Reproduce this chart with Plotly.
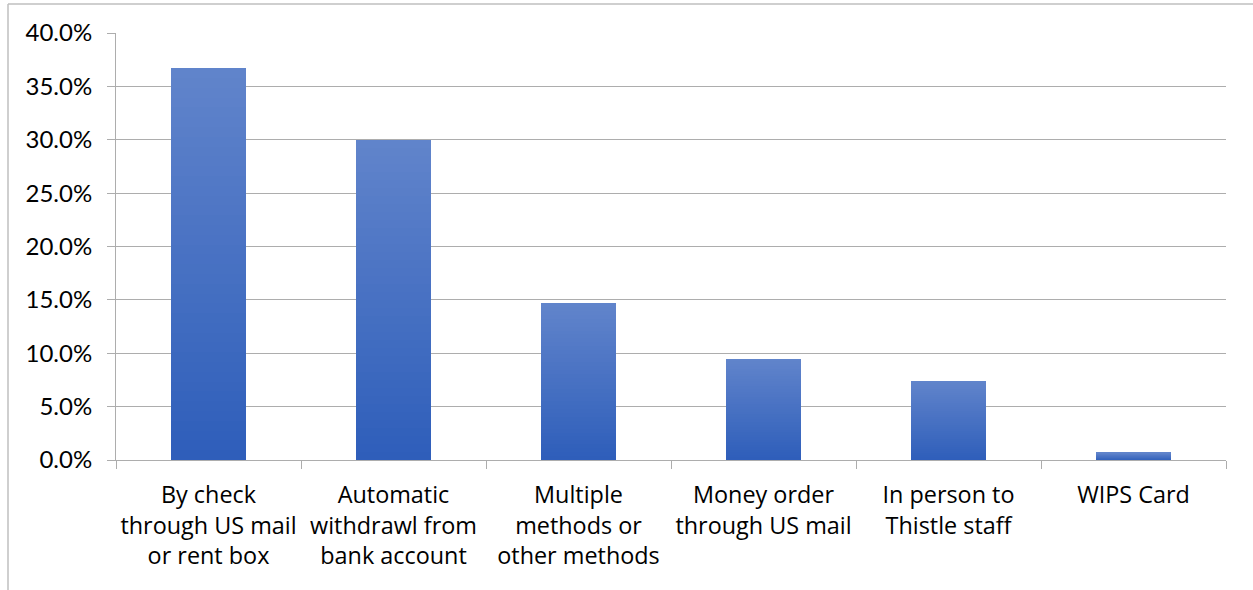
import plotly.graph_objects as go

# Payment method shares
categories = [
    "By check<br>through US mail<br>or rent box",
    "Automatic<br>withdrawl from<br>bank account",
    "Multiple<br>methods or<br>other methods",
    "Money order<br>through US mail",
    "In person to<br>Thistle staff",
    "WIPS Card",
]
shares = [0.367, 0.300, 0.147, 0.095, 0.074, 0.007]

y_ticks = [0.0, 0.05, 0.10, 0.15, 0.20, 0.25, 0.30, 0.35, 0.40]

# Vertical gradient for the bars: each bar is split into equal stacked slices
# shading from a darker blue at the base to a lighter blue at the top.
N_SLICES = 40
c_bottom = (0x2E, 0x5E, 0xBA)
c_top = (0x61, 0x84, 0xCB)


def mix(t):
    r, g, b = (round(c_bottom[i] + (c_top[i] - c_bottom[i]) * t) for i in range(3))
    return f"rgb({r},{g},{b})"


fig = go.Figure()
for k in range(N_SLICES):
    t = (k + 0.5) / N_SLICES
    fig.add_trace(go.Bar(
        x=categories,
        y=[v / N_SLICES for v in shares],
        marker=dict(color=mix(t), line=dict(width=0)),
        showlegend=False,
        hoverinfo="skip",
    ))

grid = "#ADADAD"
font_family = "Lato, Calibri, 'Noto Sans', sans-serif"

fig.update_layout(
    barmode="stack",
    bargap=0.595,
    width=1253,
    height=590,
    margin=dict(l=116, r=27, t=33, b=130),
    paper_bgcolor="white",
    plot_bgcolor="white",
    font=dict(family=font_family, size=24, color="#000000"),
    xaxis=dict(
        showline=True,
        linecolor=grid,
        linewidth=1,
        ticks="outside",
        tickson="boundaries",
        ticklen=8,
        tickcolor=grid,
        tickangle=0,
        automargin=False,
        tickfont=dict(family="'Open Sans', sans-serif", size=23.4),
        ticklabelstandoff=14,
        showgrid=False,
    ),
    yaxis=dict(
        range=[0, 0.4],
        tickvals=y_ticks,
        tickformat=".1%",
        showline=True,
        linecolor=grid,
        linewidth=1,
        ticks="outside",
        ticklen=8,
        tickcolor=grid,
        showgrid=True,
        gridcolor=grid,
        gridwidth=1,
        zeroline=False,
        automargin=False,
        tickfont=dict(size=24),
        ticklabelstandoff=10,
    ),
    shapes=[
        # chart-area border (left and top edges)
        dict(type="line", xref="paper", yref="paper",
             x0=-108 / 1110, x1=-108 / 1110, y0=456 / 427, y1=-140 / 427,
             line=dict(color="#BFBFBF", width=1.5)),
        dict(type="line", xref="paper", yref="paper",
             x0=-108 / 1110, x1=1200 / 1110, y0=456 / 427, y1=456 / 427,
             line=dict(color="#BFBFBF", width=1.5)),
    ],
)

fig.write_html("out.html")
